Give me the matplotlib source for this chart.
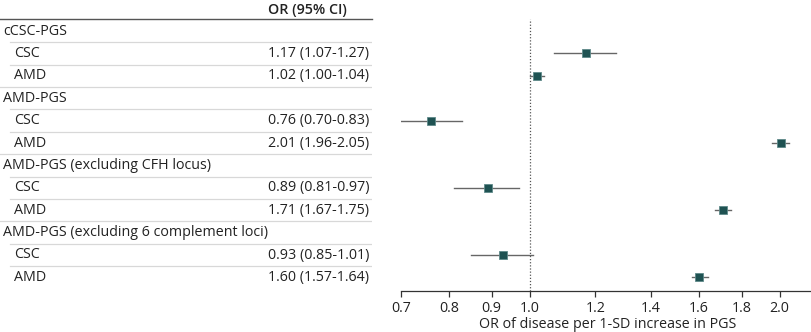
import matplotlib
matplotlib.use('Agg')
import matplotlib.pyplot as plt
from matplotlib.ticker import FixedLocator, FixedFormatter, NullLocator

plt.rcParams['font.family'] = ['Open Sans', 'DejaVu Sans']

# Data
labels = ['cCSC-PGS', 'CSC', 'AMD',
          'AMD-PGS', 'CSC', 'AMD',
          'AMD-PGS (excluding CFH locus)', 'CSC', 'AMD',
          'AMD-PGS (excluding 6 complement loci)', 'CSC', 'AMD']
is_group = [True, False, False] * 4
or_text = ['', '1.17 (1.07-1.27)', '1.02 (1.00-1.04)',
           '', '0.76 (0.70-0.83)', '2.01 (1.96-2.05)',
           '', '0.89 (0.81-0.97)', '1.71 (1.67-1.75)',
           '', '0.93 (0.85-1.01)', '1.60 (1.57-1.64)']
or_est = [None, 1.17, 1.02, None, 0.76, 2.01, None, 0.89, 1.71, None, 0.93, 1.60]
ci_low = [None, 1.07, 1.00, None, 0.70, 1.96, None, 0.81, 1.67, None, 0.85, 1.57]
ci_high = [None, 1.27, 1.04, None, 0.83, 2.05, None, 0.97, 1.75, None, 1.01, 1.64]
xticks = [0.7, 0.8, 0.9, 1.0, 1.2, 1.4, 1.6, 1.8, 2.0, 2.2]
xtick_labels = ['0.7', '0.8', '0.9', '1.0', '1.2', '1.4', '1.6', '1.8', '2.0', '']

W, H = 812, 332
fig = plt.figure(figsize=(W / 100, H / 100), dpi=100)

# pixel layout
top_px, bot_px = 19, 291
row0, step = 31, 22.4
ylo = (bot_px - row0) / step
yhi = (top_px - row0) / step

def ax_rect(x0, x1):
    return [x0 / W, 1 - bot_px / H, (x1 - x0) / W, (bot_px - top_px) / H]

text_col = '#222222'
fs = 10.3

# table
tab = fig.add_axes(ax_rect(0, 372))
tab.set_xlim(0, 372)
tab.set_ylim(ylo, yhi)
tab.axis('off')
tab.text(268, (10 - row0) / step, 'OR (95% CI)', fontsize=fs, fontweight='semibold',
         va='center', ha='left', color=text_col, clip_on=False)
tab.plot([0, 372], [yhi, yhi], color='#555555', lw=1.0, clip_on=False)
for i, lab in enumerate(labels):
    x = 3 if is_group[i] else 14
    tab.text(x, i, lab, fontsize=fs, va='center', ha='left', color=text_col)
    if or_text[i]:
        tab.text(268, i, or_text[i], fontsize=fs, va='center', ha='left', color=text_col)
    if i > 0:
        tab.plot([x - 3 if is_group[i] else 10, 372], [i - 0.5, i - 0.5],
                 color='#d8d8d8', lw=0.9)

# forest plot
ax = fig.add_axes(ax_rect(401, 814))
ax.set_xscale('log')
ax.set_xlim(0.7, 2.2)
ax.set_ylim(ylo, yhi)
for s in ['top', 'right', 'left']:
    ax.spines[s].set_visible(False)
ax.spines['bottom'].set_color('#333333')
ax.spines['bottom'].set_linewidth(0.9)
ax.yaxis.set_major_locator(NullLocator())
ax.xaxis.set_major_locator(FixedLocator(xticks))
ax.xaxis.set_major_formatter(FixedFormatter(xtick_labels))
ax.xaxis.set_minor_locator(NullLocator())
ax.tick_params(axis='x', length=4, width=0.9, color='#333333', labelsize=fs,
               labelcolor=text_col, pad=3)
ax.set_xlabel('OR of disease per 1-SD increase in PGS', fontsize=fs, color=text_col,
              labelpad=1)
ax.axvline(1.0, color='#555555', lw=0.9, ls=(0, (1, 1.5)))

for i in range(len(labels)):
    if or_est[i] is None:
        continue
    ax.plot([ci_low[i], ci_high[i]], [i, i], color='#666666', lw=1.0, zorder=2)
    ax.plot(or_est[i], i, marker='s', ms=5.5, color='#1f5252',
            mec='#5f8a8a', mew=0.6, zorder=3)

fig.savefig('out.png', dpi=100)
